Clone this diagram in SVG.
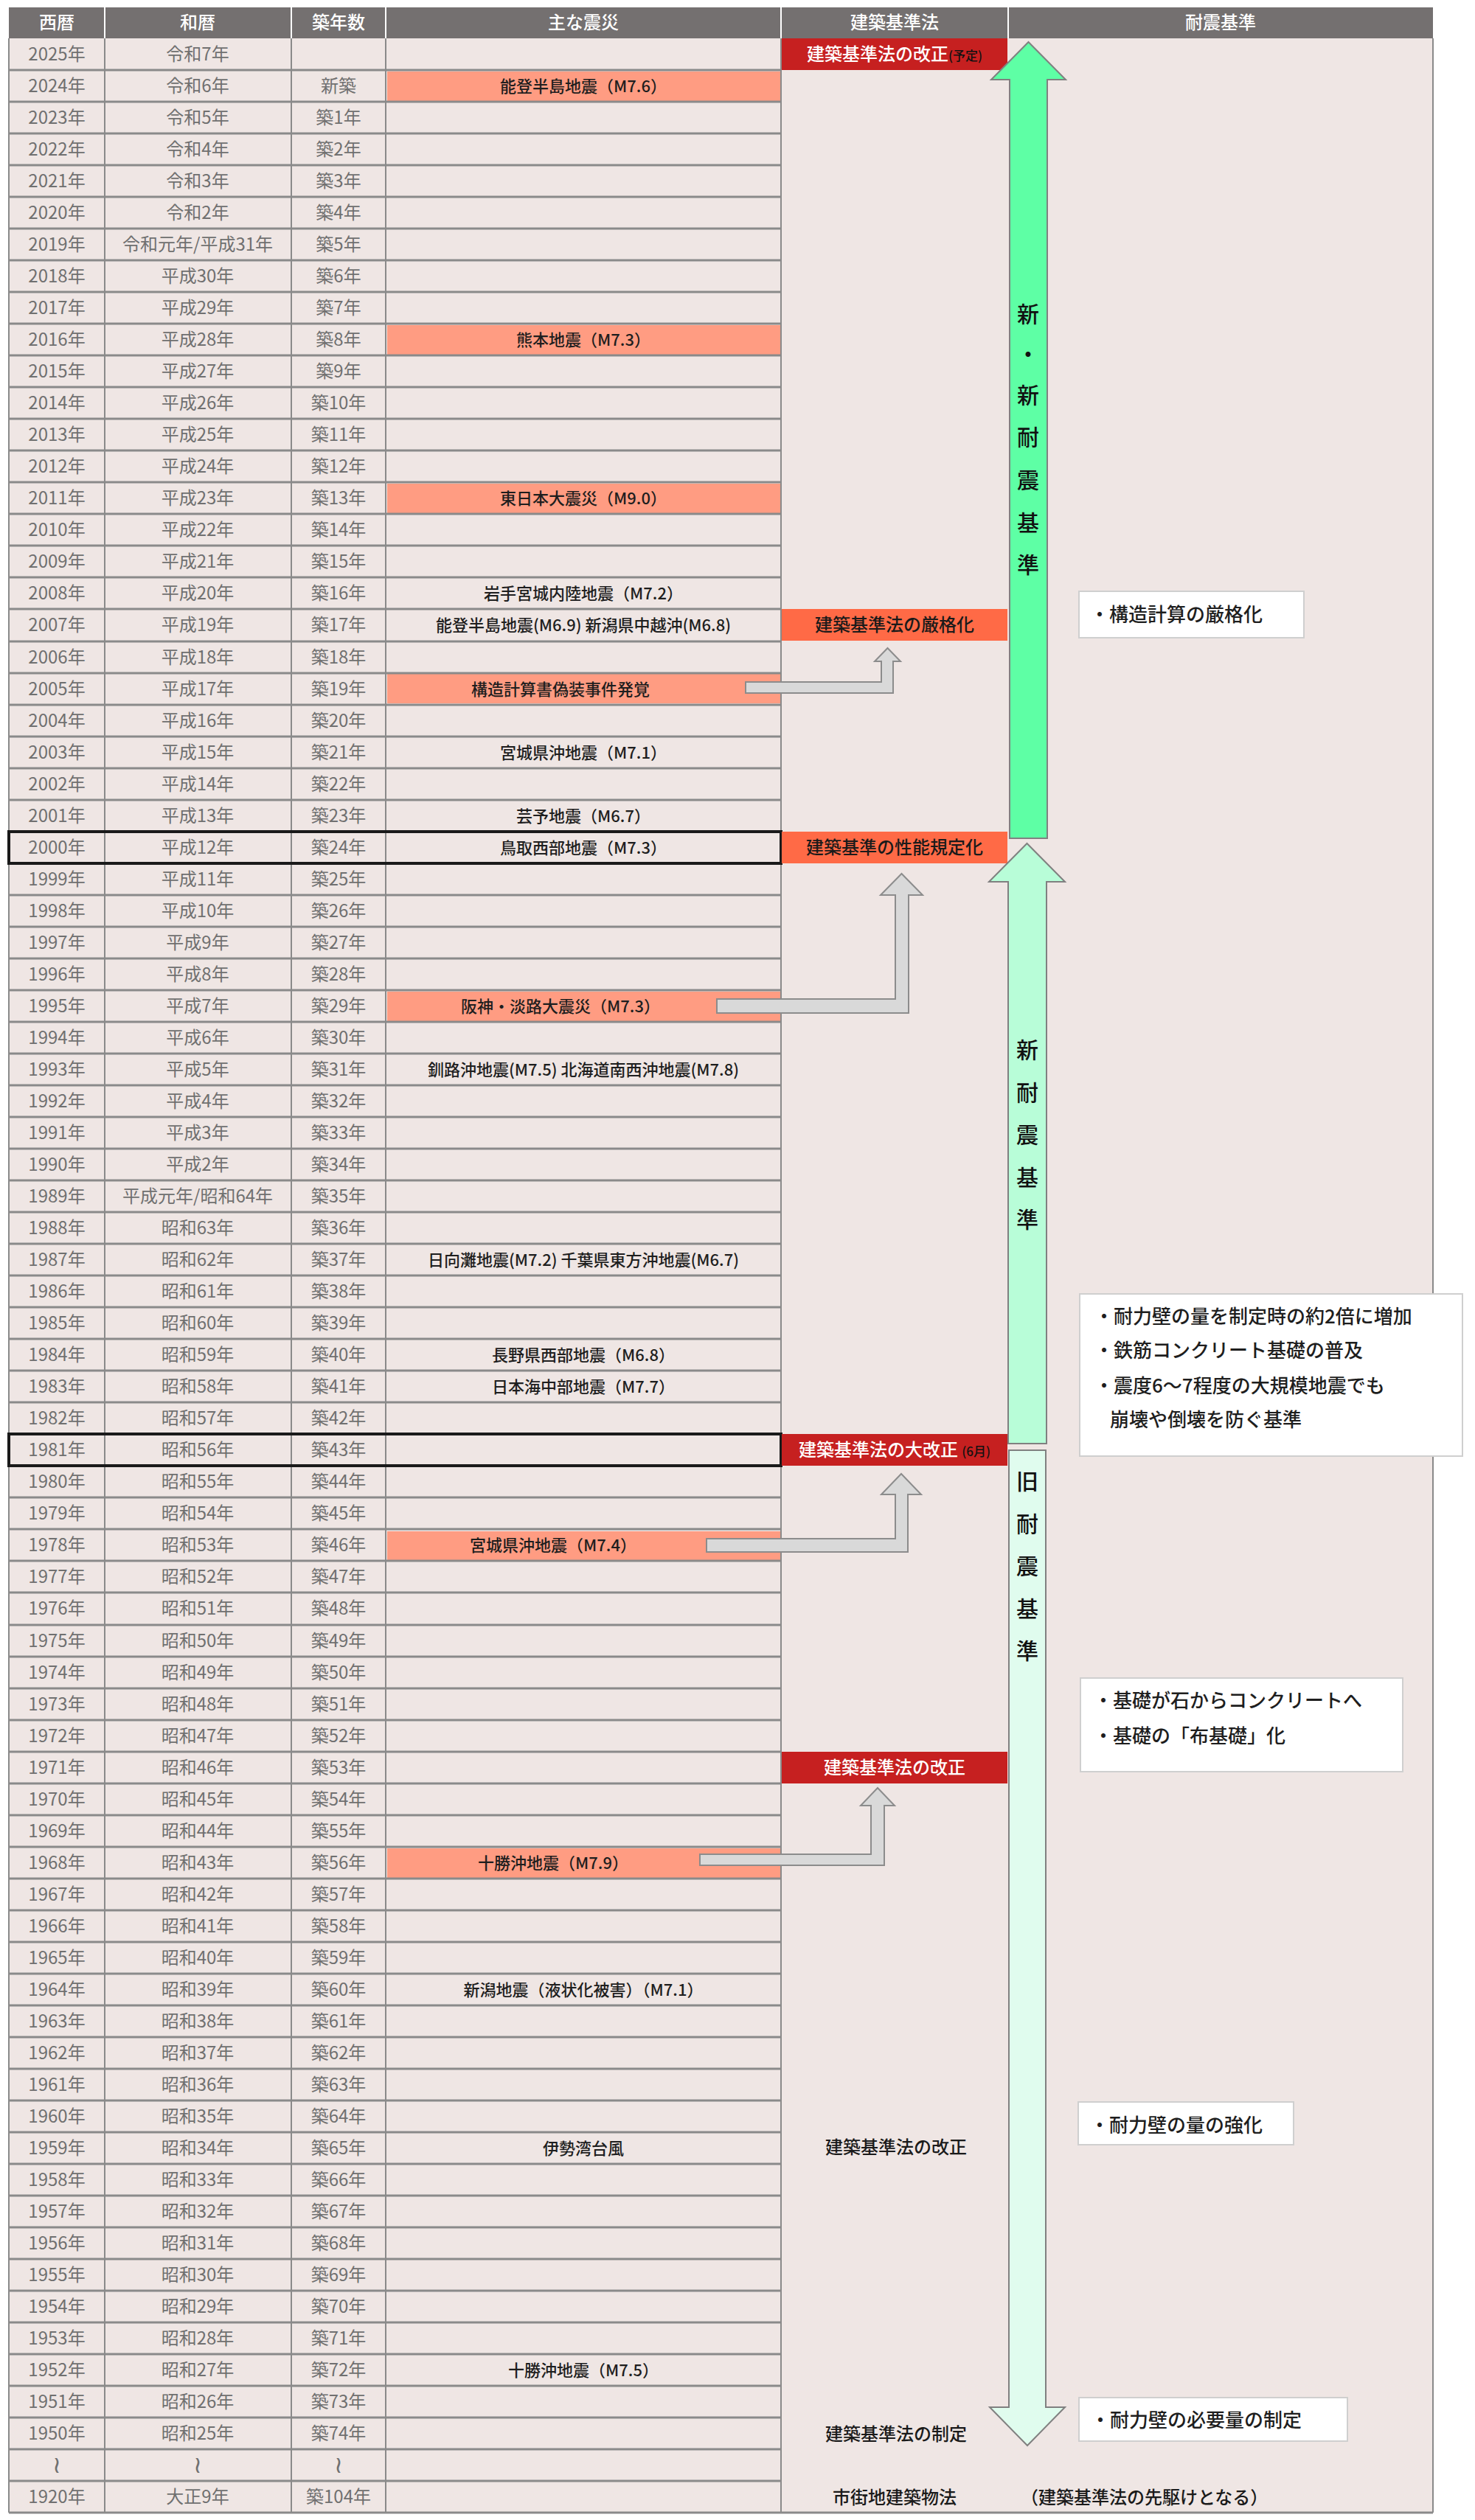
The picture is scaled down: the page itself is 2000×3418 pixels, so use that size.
<svg xmlns="http://www.w3.org/2000/svg" width="2000" height="3418" viewBox="0 0 2000 3418">
<style>
text{font-family:"Noto Sans CJK JP","Noto Sans",sans-serif}
.h{fill:#fff;font-size:24px;text-anchor:middle;font-weight:500}
.y{fill:#707070;font-size:24px;text-anchor:middle}
.e{fill:#1e1e1e;font-size:22px;text-anchor:middle;font-weight:500}
.l{font-size:24px;text-anchor:middle;font-weight:500}
.n{fill:#1e1e1e;font-size:26px;font-weight:500}
.v{fill:#111;font-size:30px;text-anchor:middle;font-weight:500}
.w{fill:#707070;font-size:32px;text-anchor:middle}
.hl{fill:#ff9c82}
.rl{stroke:#8a8a8a;stroke-width:3}
.note{fill:#fff;stroke:#cfcfcf;stroke-width:2}
.conn{fill:#d9d9d9;stroke:#8c8c8c;stroke-width:2}
.big{stroke:#808080;stroke-width:2}
</style>
<rect x="0" y="0" width="2000" height="3418" fill="#fff"/>
<rect x="12" y="52" width="1931" height="3356" fill="#efe6e4"/>
<g id="header">
<rect x="12" y="10" width="1931" height="42" fill="#747070"/>
<g stroke="#fff" stroke-width="2"><line x1="142" y1="10" x2="142" y2="52"/><line x1="395" y1="10" x2="395" y2="52"/><line x1="523" y1="10" x2="523" y2="52"/><line x1="1059" y1="10" x2="1059" y2="52"/><line x1="1367" y1="10" x2="1367" y2="52"/></g>
<text class="h" x="77" y="39">西暦</text><text class="h" x="268" y="39">和暦</text><text class="h" x="459" y="39">築年数</text><text class="h" x="791" y="39">主な震災</text><text class="h" x="1213" y="39">建築基準法</text><text class="h" x="1655" y="39">耐震基準</text>
</g>
<g id="highlights">
<rect class="hl" x="525" y="97" width="533" height="40"/>
<rect class="hl" x="525" y="441" width="533" height="40"/>
<rect class="hl" x="525" y="656" width="533" height="40"/>
<rect class="hl" x="525" y="914" width="533" height="40"/>
<rect class="hl" x="525" y="1345" width="533" height="40"/>
<rect class="hl" x="525" y="2077" width="533" height="40"/>
<rect class="hl" x="525" y="2507" width="533" height="40"/>
</g>
<g id="grid" class="rl">
<line x1="12" y1="95" x2="1059" y2="95"/><line x1="12" y1="138" x2="1059" y2="138"/><line x1="12" y1="181" x2="1059" y2="181"/><line x1="12" y1="224" x2="1059" y2="224"/><line x1="12" y1="267" x2="1059" y2="267"/><line x1="12" y1="310" x2="1059" y2="310"/><line x1="12" y1="353" x2="1059" y2="353"/><line x1="12" y1="396" x2="1059" y2="396"/><line x1="12" y1="439" x2="1059" y2="439"/><line x1="12" y1="482" x2="1059" y2="482"/><line x1="12" y1="525" x2="1059" y2="525"/><line x1="12" y1="568" x2="1059" y2="568"/><line x1="12" y1="611" x2="1059" y2="611"/><line x1="12" y1="654" x2="1059" y2="654"/><line x1="12" y1="697" x2="1059" y2="697"/><line x1="12" y1="740" x2="1059" y2="740"/><line x1="12" y1="783" x2="1059" y2="783"/><line x1="12" y1="826" x2="1059" y2="826"/><line x1="12" y1="870" x2="1059" y2="870"/><line x1="12" y1="913" x2="1059" y2="913"/><line x1="12" y1="956" x2="1059" y2="956"/><line x1="12" y1="999" x2="1059" y2="999"/><line x1="12" y1="1042" x2="1059" y2="1042"/><line x1="12" y1="1085" x2="1059" y2="1085"/><line x1="12" y1="1128" x2="1059" y2="1128"/><line x1="12" y1="1171" x2="1059" y2="1171"/><line x1="12" y1="1214" x2="1059" y2="1214"/><line x1="12" y1="1257" x2="1059" y2="1257"/><line x1="12" y1="1300" x2="1059" y2="1300"/><line x1="12" y1="1343" x2="1059" y2="1343"/><line x1="12" y1="1386" x2="1059" y2="1386"/><line x1="12" y1="1429" x2="1059" y2="1429"/><line x1="12" y1="1472" x2="1059" y2="1472"/><line x1="12" y1="1515" x2="1059" y2="1515"/><line x1="12" y1="1558" x2="1059" y2="1558"/><line x1="12" y1="1601" x2="1059" y2="1601"/><line x1="12" y1="1644" x2="1059" y2="1644"/><line x1="12" y1="1687" x2="1059" y2="1687"/><line x1="12" y1="1730" x2="1059" y2="1730"/><line x1="12" y1="1773" x2="1059" y2="1773"/><line x1="12" y1="1816" x2="1059" y2="1816"/><line x1="12" y1="1859" x2="1059" y2="1859"/><line x1="12" y1="1902" x2="1059" y2="1902"/><line x1="12" y1="1945" x2="1059" y2="1945"/><line x1="12" y1="1988" x2="1059" y2="1988"/><line x1="12" y1="2031" x2="1059" y2="2031"/><line x1="12" y1="2074" x2="1059" y2="2074"/><line x1="12" y1="2117" x2="1059" y2="2117"/><line x1="12" y1="2160" x2="1059" y2="2160"/><line x1="12" y1="2204" x2="1059" y2="2204"/><line x1="12" y1="2247" x2="1059" y2="2247"/><line x1="12" y1="2290" x2="1059" y2="2290"/><line x1="12" y1="2333" x2="1059" y2="2333"/><line x1="12" y1="2376" x2="1059" y2="2376"/><line x1="12" y1="2419" x2="1059" y2="2419"/><line x1="12" y1="2462" x2="1059" y2="2462"/><line x1="12" y1="2505" x2="1059" y2="2505"/><line x1="12" y1="2548" x2="1059" y2="2548"/><line x1="12" y1="2591" x2="1059" y2="2591"/><line x1="12" y1="2634" x2="1059" y2="2634"/><line x1="12" y1="2677" x2="1059" y2="2677"/><line x1="12" y1="2720" x2="1059" y2="2720"/><line x1="12" y1="2763" x2="1059" y2="2763"/><line x1="12" y1="2806" x2="1059" y2="2806"/><line x1="12" y1="2849" x2="1059" y2="2849"/><line x1="12" y1="2892" x2="1059" y2="2892"/><line x1="12" y1="2935" x2="1059" y2="2935"/><line x1="12" y1="2978" x2="1059" y2="2978"/><line x1="12" y1="3021" x2="1059" y2="3021"/><line x1="12" y1="3064" x2="1059" y2="3064"/><line x1="12" y1="3107" x2="1059" y2="3107"/><line x1="12" y1="3150" x2="1059" y2="3150"/><line x1="12" y1="3193" x2="1059" y2="3193"/><line x1="12" y1="3236" x2="1059" y2="3236"/><line x1="12" y1="3279" x2="1059" y2="3279"/><line x1="12" y1="3322" x2="1059" y2="3322"/><line x1="12" y1="3365" x2="1059" y2="3365"/><line x1="12" y1="3408" x2="1943" y2="3408"/>
</g>
<g stroke="#8a8a8a" stroke-width="2">
<line x1="12" y1="52" x2="12" y2="3408"/><line x1="142" y1="52" x2="142" y2="3408"/><line x1="395" y1="52" x2="395" y2="3408"/><line x1="523" y1="52" x2="523" y2="3408"/><line x1="1059" y1="52" x2="1059" y2="3408"/><line x1="1943" y1="52" x2="1943" y2="3408"/>
</g>
<g id="rows">
<g transform="translate(0,52)"><text class="y" x="77" y="30">2025年</text><text class="y" x="268" y="30">令和7年</text></g>
<g transform="translate(0,95)"><text class="y" x="77" y="30">2024年</text><text class="y" x="268" y="30">令和6年</text><text class="y" x="459" y="30">新築</text><text class="e" x="791" y="30" font-size="23">能登半島地震（M7.6）</text></g>
<g transform="translate(0,138)"><text class="y" x="77" y="30">2023年</text><text class="y" x="268" y="30">令和5年</text><text class="y" x="459" y="30">築1年</text></g>
<g transform="translate(0,181)"><text class="y" x="77" y="30">2022年</text><text class="y" x="268" y="30">令和4年</text><text class="y" x="459" y="30">築2年</text></g>
<g transform="translate(0,224)"><text class="y" x="77" y="30">2021年</text><text class="y" x="268" y="30">令和3年</text><text class="y" x="459" y="30">築3年</text></g>
<g transform="translate(0,267)"><text class="y" x="77" y="30">2020年</text><text class="y" x="268" y="30">令和2年</text><text class="y" x="459" y="30">築4年</text></g>
<g transform="translate(0,310)"><text class="y" x="77" y="30">2019年</text><text class="y" x="268" y="30">令和元年/平成31年</text><text class="y" x="459" y="30">築5年</text></g>
<g transform="translate(0,353)"><text class="y" x="77" y="30">2018年</text><text class="y" x="268" y="30">平成30年</text><text class="y" x="459" y="30">築6年</text></g>
<g transform="translate(0,396)"><text class="y" x="77" y="30">2017年</text><text class="y" x="268" y="30">平成29年</text><text class="y" x="459" y="30">築7年</text></g>
<g transform="translate(0,439)"><text class="y" x="77" y="30">2016年</text><text class="y" x="268" y="30">平成28年</text><text class="y" x="459" y="30">築8年</text><text class="e" x="791" y="30" font-size="23">熊本地震（M7.3）</text></g>
<g transform="translate(0,482)"><text class="y" x="77" y="30">2015年</text><text class="y" x="268" y="30">平成27年</text><text class="y" x="459" y="30">築9年</text></g>
<g transform="translate(0,525)"><text class="y" x="77" y="30">2014年</text><text class="y" x="268" y="30">平成26年</text><text class="y" x="459" y="30">築10年</text></g>
<g transform="translate(0,568)"><text class="y" x="77" y="30">2013年</text><text class="y" x="268" y="30">平成25年</text><text class="y" x="459" y="30">築11年</text></g>
<g transform="translate(0,611)"><text class="y" x="77" y="30">2012年</text><text class="y" x="268" y="30">平成24年</text><text class="y" x="459" y="30">築12年</text></g>
<g transform="translate(0,654)"><text class="y" x="77" y="30">2011年</text><text class="y" x="268" y="30">平成23年</text><text class="y" x="459" y="30">築13年</text><text class="e" x="791" y="30" font-size="23">東日本大震災（M9.0）</text></g>
<g transform="translate(0,697)"><text class="y" x="77" y="30">2010年</text><text class="y" x="268" y="30">平成22年</text><text class="y" x="459" y="30">築14年</text></g>
<g transform="translate(0,740)"><text class="y" x="77" y="30">2009年</text><text class="y" x="268" y="30">平成21年</text><text class="y" x="459" y="30">築15年</text></g>
<g transform="translate(0,783)"><text class="y" x="77" y="30">2008年</text><text class="y" x="268" y="30">平成20年</text><text class="y" x="459" y="30">築16年</text><text class="e" x="791" y="30">岩手宮城内陸地震（M7.2）</text></g>
<g transform="translate(0,826)"><text class="y" x="77" y="30">2007年</text><text class="y" x="268" y="30">平成19年</text><text class="y" x="459" y="30">築17年</text><text class="e" x="791" y="30">能登半島地震(M6.9) 新潟県中越沖(M6.8)</text></g>
<g transform="translate(0,870)"><text class="y" x="77" y="30">2006年</text><text class="y" x="268" y="30">平成18年</text><text class="y" x="459" y="30">築18年</text></g>
<g transform="translate(0,913)"><text class="y" x="77" y="30">2005年</text><text class="y" x="268" y="30">平成17年</text><text class="y" x="459" y="30">築19年</text><text class="e" x="760" y="30" font-size="23">構造計算書偽装事件発覚</text></g>
<g transform="translate(0,956)"><text class="y" x="77" y="30">2004年</text><text class="y" x="268" y="30">平成16年</text><text class="y" x="459" y="30">築20年</text></g>
<g transform="translate(0,999)"><text class="y" x="77" y="30">2003年</text><text class="y" x="268" y="30">平成15年</text><text class="y" x="459" y="30">築21年</text><text class="e" x="791" y="30">宮城県沖地震（M7.1）</text></g>
<g transform="translate(0,1042)"><text class="y" x="77" y="30">2002年</text><text class="y" x="268" y="30">平成14年</text><text class="y" x="459" y="30">築22年</text></g>
<g transform="translate(0,1085)"><text class="y" x="77" y="30">2001年</text><text class="y" x="268" y="30">平成13年</text><text class="y" x="459" y="30">築23年</text><text class="e" x="791" y="30">芸予地震（M6.7）</text></g>
<g transform="translate(0,1128)"><text class="y" x="77" y="30">2000年</text><text class="y" x="268" y="30">平成12年</text><text class="y" x="459" y="30">築24年</text><text class="e" x="791" y="30">鳥取西部地震（M7.3）</text></g>
<g transform="translate(0,1171)"><text class="y" x="77" y="30">1999年</text><text class="y" x="268" y="30">平成11年</text><text class="y" x="459" y="30">築25年</text></g>
<g transform="translate(0,1214)"><text class="y" x="77" y="30">1998年</text><text class="y" x="268" y="30">平成10年</text><text class="y" x="459" y="30">築26年</text></g>
<g transform="translate(0,1257)"><text class="y" x="77" y="30">1997年</text><text class="y" x="268" y="30">平成9年</text><text class="y" x="459" y="30">築27年</text></g>
<g transform="translate(0,1300)"><text class="y" x="77" y="30">1996年</text><text class="y" x="268" y="30">平成8年</text><text class="y" x="459" y="30">築28年</text></g>
<g transform="translate(0,1343)"><text class="y" x="77" y="30">1995年</text><text class="y" x="268" y="30">平成7年</text><text class="y" x="459" y="30">築29年</text><text class="e" x="760" y="30" font-size="23">阪神・淡路大震災（M7.3）</text></g>
<g transform="translate(0,1386)"><text class="y" x="77" y="30">1994年</text><text class="y" x="268" y="30">平成6年</text><text class="y" x="459" y="30">築30年</text></g>
<g transform="translate(0,1429)"><text class="y" x="77" y="30">1993年</text><text class="y" x="268" y="30">平成5年</text><text class="y" x="459" y="30">築31年</text><text class="e" x="791" y="30">釧路沖地震(M7.5) 北海道南西沖地震(M7.8)</text></g>
<g transform="translate(0,1472)"><text class="y" x="77" y="30">1992年</text><text class="y" x="268" y="30">平成4年</text><text class="y" x="459" y="30">築32年</text></g>
<g transform="translate(0,1515)"><text class="y" x="77" y="30">1991年</text><text class="y" x="268" y="30">平成3年</text><text class="y" x="459" y="30">築33年</text></g>
<g transform="translate(0,1558)"><text class="y" x="77" y="30">1990年</text><text class="y" x="268" y="30">平成2年</text><text class="y" x="459" y="30">築34年</text></g>
<g transform="translate(0,1601)"><text class="y" x="77" y="30">1989年</text><text class="y" x="268" y="30">平成元年/昭和64年</text><text class="y" x="459" y="30">築35年</text></g>
<g transform="translate(0,1644)"><text class="y" x="77" y="30">1988年</text><text class="y" x="268" y="30">昭和63年</text><text class="y" x="459" y="30">築36年</text></g>
<g transform="translate(0,1687)"><text class="y" x="77" y="30">1987年</text><text class="y" x="268" y="30">昭和62年</text><text class="y" x="459" y="30">築37年</text><text class="e" x="791" y="30">日向灘地震(M7.2) 千葉県東方沖地震(M6.7)</text></g>
<g transform="translate(0,1730)"><text class="y" x="77" y="30">1986年</text><text class="y" x="268" y="30">昭和61年</text><text class="y" x="459" y="30">築38年</text></g>
<g transform="translate(0,1773)"><text class="y" x="77" y="30">1985年</text><text class="y" x="268" y="30">昭和60年</text><text class="y" x="459" y="30">築39年</text></g>
<g transform="translate(0,1816)"><text class="y" x="77" y="30">1984年</text><text class="y" x="268" y="30">昭和59年</text><text class="y" x="459" y="30">築40年</text><text class="e" x="791" y="30">長野県西部地震（M6.8）</text></g>
<g transform="translate(0,1859)"><text class="y" x="77" y="30">1983年</text><text class="y" x="268" y="30">昭和58年</text><text class="y" x="459" y="30">築41年</text><text class="e" x="791" y="30">日本海中部地震（M7.7）</text></g>
<g transform="translate(0,1902)"><text class="y" x="77" y="30">1982年</text><text class="y" x="268" y="30">昭和57年</text><text class="y" x="459" y="30">築42年</text></g>
<g transform="translate(0,1945)"><text class="y" x="77" y="30">1981年</text><text class="y" x="268" y="30">昭和56年</text><text class="y" x="459" y="30">築43年</text></g>
<g transform="translate(0,1988)"><text class="y" x="77" y="30">1980年</text><text class="y" x="268" y="30">昭和55年</text><text class="y" x="459" y="30">築44年</text></g>
<g transform="translate(0,2031)"><text class="y" x="77" y="30">1979年</text><text class="y" x="268" y="30">昭和54年</text><text class="y" x="459" y="30">築45年</text></g>
<g transform="translate(0,2074)"><text class="y" x="77" y="30">1978年</text><text class="y" x="268" y="30">昭和53年</text><text class="y" x="459" y="30">築46年</text><text class="e" x="750" y="30" font-size="23">宮城県沖地震（M7.4）</text></g>
<g transform="translate(0,2117)"><text class="y" x="77" y="30">1977年</text><text class="y" x="268" y="30">昭和52年</text><text class="y" x="459" y="30">築47年</text></g>
<g transform="translate(0,2160)"><text class="y" x="77" y="30">1976年</text><text class="y" x="268" y="30">昭和51年</text><text class="y" x="459" y="30">築48年</text></g>
<g transform="translate(0,2204)"><text class="y" x="77" y="30">1975年</text><text class="y" x="268" y="30">昭和50年</text><text class="y" x="459" y="30">築49年</text></g>
<g transform="translate(0,2247)"><text class="y" x="77" y="30">1974年</text><text class="y" x="268" y="30">昭和49年</text><text class="y" x="459" y="30">築50年</text></g>
<g transform="translate(0,2290)"><text class="y" x="77" y="30">1973年</text><text class="y" x="268" y="30">昭和48年</text><text class="y" x="459" y="30">築51年</text></g>
<g transform="translate(0,2333)"><text class="y" x="77" y="30">1972年</text><text class="y" x="268" y="30">昭和47年</text><text class="y" x="459" y="30">築52年</text></g>
<g transform="translate(0,2376)"><text class="y" x="77" y="30">1971年</text><text class="y" x="268" y="30">昭和46年</text><text class="y" x="459" y="30">築53年</text></g>
<g transform="translate(0,2419)"><text class="y" x="77" y="30">1970年</text><text class="y" x="268" y="30">昭和45年</text><text class="y" x="459" y="30">築54年</text></g>
<g transform="translate(0,2462)"><text class="y" x="77" y="30">1969年</text><text class="y" x="268" y="30">昭和44年</text><text class="y" x="459" y="30">築55年</text></g>
<g transform="translate(0,2505)"><text class="y" x="77" y="30">1968年</text><text class="y" x="268" y="30">昭和43年</text><text class="y" x="459" y="30">築56年</text><text class="e" x="750" y="30" font-size="23">十勝沖地震（M7.9）</text></g>
<g transform="translate(0,2548)"><text class="y" x="77" y="30">1967年</text><text class="y" x="268" y="30">昭和42年</text><text class="y" x="459" y="30">築57年</text></g>
<g transform="translate(0,2591)"><text class="y" x="77" y="30">1966年</text><text class="y" x="268" y="30">昭和41年</text><text class="y" x="459" y="30">築58年</text></g>
<g transform="translate(0,2634)"><text class="y" x="77" y="30">1965年</text><text class="y" x="268" y="30">昭和40年</text><text class="y" x="459" y="30">築59年</text></g>
<g transform="translate(0,2677)"><text class="y" x="77" y="30">1964年</text><text class="y" x="268" y="30">昭和39年</text><text class="y" x="459" y="30">築60年</text><text class="e" x="791" y="30">新潟地震（液状化被害）（M7.1）</text></g>
<g transform="translate(0,2720)"><text class="y" x="77" y="30">1963年</text><text class="y" x="268" y="30">昭和38年</text><text class="y" x="459" y="30">築61年</text></g>
<g transform="translate(0,2763)"><text class="y" x="77" y="30">1962年</text><text class="y" x="268" y="30">昭和37年</text><text class="y" x="459" y="30">築62年</text></g>
<g transform="translate(0,2806)"><text class="y" x="77" y="30">1961年</text><text class="y" x="268" y="30">昭和36年</text><text class="y" x="459" y="30">築63年</text></g>
<g transform="translate(0,2849)"><text class="y" x="77" y="30">1960年</text><text class="y" x="268" y="30">昭和35年</text><text class="y" x="459" y="30">築64年</text></g>
<g transform="translate(0,2892)"><text class="y" x="77" y="30">1959年</text><text class="y" x="268" y="30">昭和34年</text><text class="y" x="459" y="30">築65年</text><text class="e" x="791" y="30">伊勢湾台風</text></g>
<g transform="translate(0,2935)"><text class="y" x="77" y="30">1958年</text><text class="y" x="268" y="30">昭和33年</text><text class="y" x="459" y="30">築66年</text></g>
<g transform="translate(0,2978)"><text class="y" x="77" y="30">1957年</text><text class="y" x="268" y="30">昭和32年</text><text class="y" x="459" y="30">築67年</text></g>
<g transform="translate(0,3021)"><text class="y" x="77" y="30">1956年</text><text class="y" x="268" y="30">昭和31年</text><text class="y" x="459" y="30">築68年</text></g>
<g transform="translate(0,3064)"><text class="y" x="77" y="30">1955年</text><text class="y" x="268" y="30">昭和30年</text><text class="y" x="459" y="30">築69年</text></g>
<g transform="translate(0,3107)"><text class="y" x="77" y="30">1954年</text><text class="y" x="268" y="30">昭和29年</text><text class="y" x="459" y="30">築70年</text></g>
<g transform="translate(0,3150)"><text class="y" x="77" y="30">1953年</text><text class="y" x="268" y="30">昭和28年</text><text class="y" x="459" y="30">築71年</text></g>
<g transform="translate(0,3193)"><text class="y" x="77" y="30">1952年</text><text class="y" x="268" y="30">昭和27年</text><text class="y" x="459" y="30">築72年</text><text class="e" x="791" y="30">十勝沖地震（M7.5）</text></g>
<g transform="translate(0,3236)"><text class="y" x="77" y="30">1951年</text><text class="y" x="268" y="30">昭和26年</text><text class="y" x="459" y="30">築73年</text></g>
<g transform="translate(0,3279)"><text class="y" x="77" y="30">1950年</text><text class="y" x="268" y="30">昭和25年</text><text class="y" x="459" y="30">築74年</text></g>
<g transform="translate(0,3322)"><text class="w" x="77" y="32">≀</text><text class="w" x="268" y="32">≀</text><text class="w" x="459" y="32">≀</text></g>
<g transform="translate(0,3365)"><text class="y" x="77" y="30">1920年</text><text class="y" x="268" y="30">大正9年</text><text class="y" x="459" y="30">築104年</text></g>
</g>
<g id="outlines" fill="none" stroke="#1a1a1a" stroke-width="4">
<rect x="12" y="1128" width="1047" height="43"/>
<rect x="12" y="1945" width="1047" height="43"/>
</g>
<g id="law-boxes">
<rect x="1060" y="52" width="306" height="43" fill="#c62020"/>
<text class="l" x="1213" y="82" fill="#fff">建築基準法の改正<tspan fill="#111" font-size="17">(予定)</tspan></text>
<rect x="1060" y="826" width="306" height="43" fill="#ff6a46"/>
<text class="l" x="1213" y="856" fill="#1a1a1a">建築基準法の厳格化</text>
<rect x="1060" y="1128" width="306" height="43" fill="#ff6a46"/>
<text class="l" x="1213" y="1158" fill="#1a1a1a">建築基準の性能規定化</text>
<rect x="1060" y="1945" width="306" height="43" fill="#c62020"/>
<text class="l" x="1213" y="1975" fill="#fff">建築基準法の大改正 <tspan fill="#111" font-size="17">(6月)</tspan></text>
<rect x="1060" y="2376" width="306" height="43" fill="#c62020"/>
<text class="l" x="1213" y="2406" fill="#fff">建築基準法の改正</text>
<text class="l" x="1215" y="2921" fill="#1a1a1a">建築基準法の改正</text>
<text class="l" x="1215" y="3310" fill="#1a1a1a">建築基準法の制定</text>
<text x="1129" y="3396" font-size="24" font-weight="500" fill="#1a1a1a">市街地建築物法</text>
<text x="1384" y="3396" font-size="24" font-weight="500" fill="#1a1a1a">（建築基準法の先駆けとなる）</text>
</g>
<g id="connectors">
<path class="conn" d="M1011,925 H1195 V897 H1186 L1203.5,879 L1221,897 H1211 V940 H1011 Z"/>
<path class="conn" d="M972,1355 H1214 V1214 H1194 L1222.5,1185 L1251,1214 H1232 V1374 H972 Z"/>
<path class="conn" d="M958,2087 H1214 V2027 H1195 L1222,1999 L1249,2027 H1231 V2105 H958 Z"/>
<path class="conn" d="M949,2515 H1181 V2449 H1167 L1190,2425 L1213,2449 H1199 V2530 H949 Z"/>
</g>
<g id="arrow-shin-shin">
<path class="big" fill="#5effa5" d="M1369,1137 V108 H1344 L1394.5,57 L1445,108 H1420 V1137 Z"/>
<text class="v" x="1394" y="437">新</text><text class="v" x="1394" y="492">・</text><text class="v" x="1394" y="547">新</text><text class="v" x="1394" y="604">耐</text><text class="v" x="1394" y="662">震</text><text class="v" x="1394" y="720">基</text><text class="v" x="1394" y="777">準</text>
</g>
<g id="arrow-shin">
<path class="big" fill="#b8fdd8" d="M1367,1958 V1196 H1341 L1392.5,1144 L1444,1196 H1419 V1958 Z"/>
<text class="v" x="1393" y="1435">新</text><text class="v" x="1393" y="1493">耐</text><text class="v" x="1393" y="1550">震</text><text class="v" x="1393" y="1608">基</text><text class="v" x="1393" y="1665">準</text>
</g>
<g id="arrow-kyu">
<path class="big" fill="#e0fcee" d="M1368,1967 V3265 H1342 L1393,3317 L1444,3265 H1418 V1967 Z"/>
<text class="v" x="1393" y="2020">旧</text><text class="v" x="1393" y="2078">耐</text><text class="v" x="1393" y="2135">震</text><text class="v" x="1393" y="2193">基</text><text class="v" x="1393" y="2250">準</text>
</g>
<g id="note1"><rect class="note" x="1463" y="802" width="305" height="63"/><text class="n" x="1478" y="843">・構造計算の厳格化</text></g>
<g id="note2"><rect class="note" x="1464" y="1755" width="519" height="220"/>
<text class="n" x="1484" y="1795">・耐力壁の量を制定時の約2倍に増加</text>
<text class="n" x="1484" y="1841">・鉄筋コンクリート基礎の普及</text>
<text class="n" x="1484" y="1889">・震度6～7程度の大規模地震でも</text>
<text class="n" x="1505" y="1935">崩壊や倒壊を防ぐ基準</text></g>
<g id="note3"><rect class="note" x="1465" y="2276" width="437" height="127"/>
<text class="n" x="1483" y="2316">・基礎が石からコンクリートへ</text>
<text class="n" x="1483" y="2364">・基礎の「布基礎」化</text></g>
<g id="note4"><rect class="note" x="1462" y="2851" width="292" height="58"/><text class="n" x="1478" y="2892">・耐力壁の量の強化</text></g>
<g id="note5"><rect class="note" x="1463" y="3252" width="364" height="59"/><text class="n" x="1479" y="3292">・耐力壁の必要量の制定</text></g>
</svg>
